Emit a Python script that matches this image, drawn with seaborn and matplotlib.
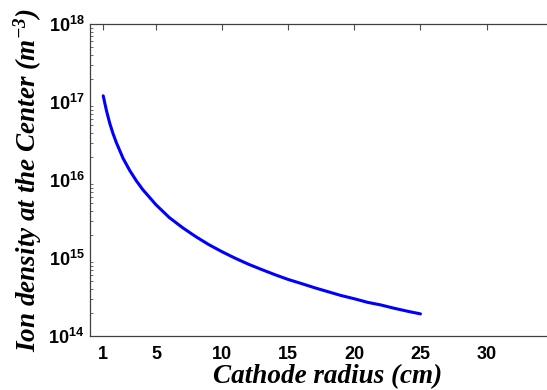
import numpy as np
import pandas as pd
import matplotlib
matplotlib.use('Agg')
import matplotlib.pyplot as plt
import seaborn as sns
from matplotlib.ticker import LogLocator, LogFormatterMathtext, NullFormatter

# values
radius_cm = [1, 1.25, 1.5, 1.75, 2, 2.5, 3, 3.5, 4, 5, 6, 7, 8, 9, 10, 11, 12,
             13, 14, 15, 16, 17, 18, 19, 20, 21, 22, 23, 24, 25]
ion_density = [1.2e17, 7.7e16, 5.3e16, 3.9e16, 3.0e16, 1.9e16, 1.33e16, 9.8e15,
               7.5e15, 4.8e15, 3.3e15, 2.45e15, 1.88e15, 1.48e15, 1.2e15, 9.9e14,
               8.3e14, 7.1e14, 6.1e14, 5.3e14, 4.7e14, 4.15e14, 3.7e14, 3.3e14,
               3.0e14, 2.7e14, 2.5e14, 2.27e14, 2.08e14, 1.92e14]
xticks = [1, 5, 10, 15, 20, 25, 30]

df = pd.DataFrame({'r': radius_cm, 'n': ion_density})

sns.set_style('white')
plt.rcParams['mathtext.default'] = 'regular'
plt.rcParams['text.color'] = 'black'
plt.rcParams['xtick.color'] = 'black'
plt.rcParams['ytick.color'] = 'black'
plt.rcParams['axes.labelcolor'] = 'black'

fig = plt.figure(figsize=(5.47, 3.9), dpi=100)
ax = fig.add_axes([0.1645, 0.1385, 0.87, 0.80])

sns.lineplot(data=df, x='r', y='n', ax=ax, color='#0000ff', linewidth=2.2)

ax.set_yscale('log')
ax.set_ylim(1e14, 1e18)
ax.set_xlim(0, 36)
ax.set_xticks(xticks)
ax.yaxis.set_major_locator(LogLocator(base=10, numticks=10))
ax.yaxis.set_major_formatter(LogFormatterMathtext())
ax.yaxis.set_minor_locator(LogLocator(base=10, subs=np.arange(2, 10), numticks=20))
ax.yaxis.set_minor_formatter(NullFormatter())

for s in ax.spines.values():
    s.set_color('#404040')
    s.set_linewidth(0.9)

ax.tick_params(axis='both', which='major', direction='in', length=4, width=0.8,
               color='#505050', labelcolor='black', top=True, right=False, pad=4)
ax.tick_params(axis='y', which='minor', direction='in', length=2.5, width=0.6,
               color='#505050', left=True, right=False)
ax.tick_params(axis='x', pad=7)

for lab in ax.get_xticklabels() + ax.get_yticklabels():
    lab.set_fontfamily('Liberation Sans')
    lab.set_fontweight('bold')
    lab.set_fontsize(13)

ax.set_xlabel('Cathode radius (cm)', family='Liberation Serif', fontweight='bold',
              style='italic', fontsize=19.5, color='black', labelpad=1)
ax.set_ylabel('Ion density at the Center (m$^{-3}$)', family='Liberation Serif',
              fontweight='bold', style='italic', fontsize=19.5, color='black',
              labelpad=3)

fig.savefig('out.png', dpi=100)
